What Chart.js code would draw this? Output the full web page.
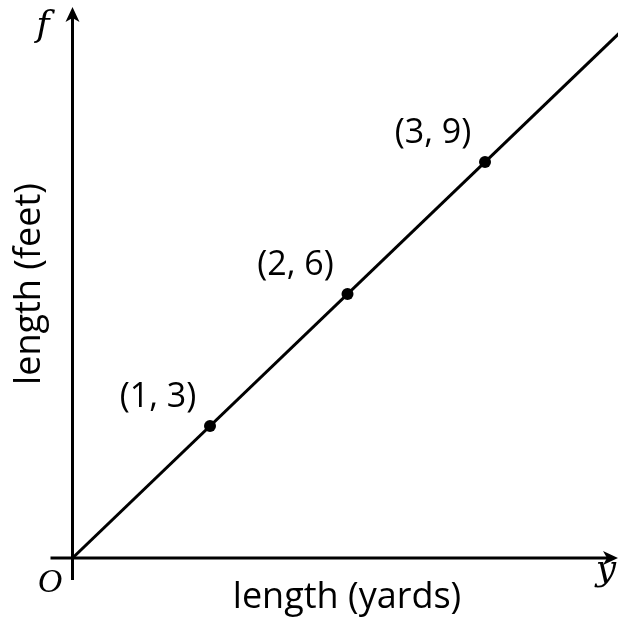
<!DOCTYPE html>
<html>
<head>
<meta charset="utf-8">
<script src="https://cdn.jsdelivr.net/npm/chart.js@4"></script>
<style>
html,body{margin:0;padding:0;background:#fff;}
#wrap{width:618px;height:620px;position:relative;}
</style>
</head>
<body>
<div id="wrap"><canvas id="c" width="618" height="620"></canvas></div>
<script>
// Data
const lineX = [0, 4];
const lineY = [0, 12];
const pointX = [1, 2, 3];
const pointY = [3, 6, 9];
const pointLabels = ['(1, 3)', '(2, 6)', '(3, 9)'];
const xTitle = 'length (yards)';
const yTitle = 'length (feet)';
const xVar = 'y';
const yVar = 'f';
const originLabel = 'O';

const FONT = '"Open Sans", sans-serif';

const overlay = {
  id: 'overlay',
  afterDraw(chart) {
    const ctx = chart.ctx;
    const xs = chart.scales.x, ys = chart.scales.y;
    const ox = xs.getPixelForValue(0), oy = ys.getPixelForValue(0);
    ctx.save();
    ctx.strokeStyle = '#000';
    ctx.fillStyle = '#000';
    ctx.lineWidth = 3;
    // x axis
    ctx.beginPath();
    ctx.moveTo(ox - 22, oy);
    ctx.lineTo(610, oy);
    ctx.stroke();
    ctx.beginPath();
    ctx.moveTo(618, oy);
    ctx.lineTo(603, oy - 7);
    ctx.lineTo(607, oy);
    ctx.lineTo(603, oy + 7);
    ctx.closePath();
    ctx.fill();
    // y axis
    ctx.beginPath();
    ctx.moveTo(ox, oy + 22);
    ctx.lineTo(ox, 16);
    ctx.stroke();
    ctx.beginPath();
    ctx.moveTo(ox, 7);
    ctx.lineTo(ox - 7, 22);
    ctx.lineTo(ox, 18);
    ctx.lineTo(ox + 7, 22);
    ctx.closePath();
    ctx.fill();

    // point labels
    ctx.font = '34px ' + FONT;
    ctx.textAlign = 'center';
    ctx.textBaseline = 'middle';
    for (let i = 0; i < pointX.length; i++) {
      const px = xs.getPixelForValue(pointX[i]);
      const py = ys.getPixelForValue(pointY[i]);
      ctx.fillText(pointLabels[i], px - 52, py - 29);
    }
    // axis titles
    ctx.font = '36px ' + FONT;
    ctx.textBaseline = 'alphabetic';
    ctx.fillText(xTitle, 347, 608);
    ctx.save();
    ctx.translate(40, 284);
    ctx.rotate(-Math.PI / 2);
    ctx.fillText(yTitle, 0, 0);
    ctx.restore();
    // variable labels
    ctx.font = 'italic 36px "DejaVu Serif", serif';
    ctx.fillText(yVar, 43, 36);
    ctx.fillText(xVar, 606, 580);
    ctx.font = 'italic 34px "Liberation Serif", serif';
    ctx.fillText(originLabel, 50, 592);
    ctx.restore();
  }
};

new Chart(document.getElementById('c'), {
  type: 'scatter',
  data: {
    datasets: [
      {
        data: lineX.map((x, i) => ({x: x, y: lineY[i]})),
        showLine: true,
        borderColor: '#000',
        borderWidth: 3,
        pointRadius: 0,
        fill: false
      },
      {
        data: pointX.map((x, i) => ({x: x, y: pointY[i]})),
        backgroundColor: '#000',
        borderColor: '#000',
        pointRadius: 6,
        borderWidth: 0
      }
    ]
  },
  options: {
    responsive: false,
    animation: false,
    layout: {autoPadding: false, padding: {left: 72.5, right: 0, top: 8, bottom: 62}},
    plugins: {legend: {display: false}, tooltip: {enabled: false}},
    scales: {
      x: {type: 'linear', display: false, min: 0, max: 3.967},
      y: {type: 'linear', display: false, min: 0, max: 12.5}
    }
  },
  plugins: [overlay]
});
</script>
</body>
</html>
